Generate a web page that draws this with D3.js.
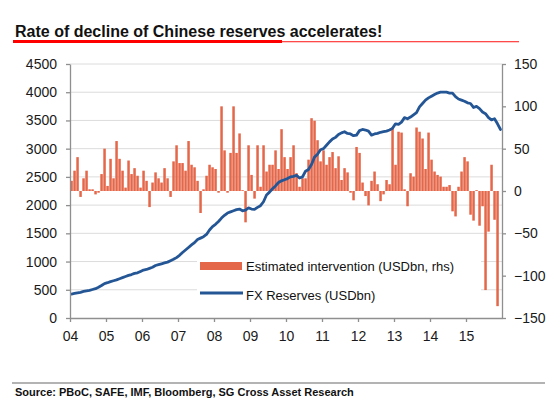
<!DOCTYPE html>
<html>
<head>
<meta charset="utf-8">
<script src="https://cdn.jsdelivr.net/npm/d3@7"></script>
<style>
  html, body { margin: 0; padding: 0; background: #fff; }
  svg { display: block; font-family: "Liberation Sans", Arial, sans-serif; }
</style>
</head>
<body>
<svg id="chart" width="550" height="411"></svg>
<script>
// ---- DATA ----
const titleText = "Rate of decline of Chinese reserves accelerates!";
const sourceText = "Source: PBoC, SAFE, IMF, Bloomberg, SG Cross Asset Research";
const yearLabels = ["04","05","06","07","08","09","10","11","12","13","14","15"];
const leftTicks = [0, 500, 1000, 1500, 2000, 2500, 3000, 3500, 4000, 4500];
const rightTicks = [-150, -100, -50, 0, 50, 100, 150];
const startYear = 2004;
const seriesNames = ["Estimated intervention (USDbn, rhs)", "FX Reserves (USDbn)"];

// Estimated intervention, monthly from Jan 2004 (USDbn, rhs)
const intervention = [
  12, 24, 40, -7, 15, 24, 2, 2, -4, -2, 20, 50,          // 2004
  6, 38, 15, 59, 38, 24, 4, 36, 20, 27, 18, 4,           // 2005
  24, 12, -19, 10, 22, 15, 10, 27, 15, -7, 35, 54,       // 2006
  33, 33, 24, 59, 31, 28, 12, -26, 2, 18, 31, 28,        // 2007
  26, -2, 100, 48, -2, 45, 100, 45, 68, 1, -37, 54,      // 2008
  19, -9, 54, 5, 54, 23, 31, 31, 48, 26, 73, 40,         // 2009
  26, 40, 54, 21, 5, 15, 15, 37, 86, 83, 60, 35,         // 2010
  48, 31, 40, 46, 27, 41, 13, 27, 22, -2, -11, 52,       // 2011
  45, 10, -6, -17, 12, 23, 8, -12, -4, 13, 8, 75,        // 2012
  31, 70, 69, 2, -18, 21, 17, 75, 70, 62, 26, 69,        // 2013
  37, 23, 19, 17, 5, 5, 7, -24, -30, 5, 23, 40,          // 2014
  35, -28, -35, 1, -41, -18, -117, -48, 31, -34, -136    // 2015
];

// FX reserves, monthly from Jan 2004 (USDbn)
const reserves = [
  425, 435, 445, 455, 470, 480, 490, 505, 520, 545, 575, 610,          // 2004
  625, 645, 660, 675, 695, 715, 735, 755, 770, 790, 800, 825,          // 2005
  850, 860, 880, 900, 930, 945, 960, 975, 990, 1015, 1040, 1070,       // 2006
  1110, 1160, 1205, 1250, 1295, 1335, 1390, 1415, 1440, 1480, 1560, 1620, // 2007
  1660, 1710, 1770, 1820, 1860, 1880, 1900, 1920, 1930, 1900, 1910, 1950, // 2008
  1930, 1925, 1960, 1990, 2060, 2180, 2230, 2290, 2340, 2400, 2430, 2450, // 2009
  2470, 2500, 2510, 2530, 2480, 2500, 2600, 2630, 2720, 2850, 2900, 2980, // 2010
  3000, 3060, 3120, 3170, 3200, 3250, 3280, 3300, 3270, 3260, 3230, 3240, // 2011
  3320, 3340, 3330, 3310, 3240, 3260, 3270, 3290, 3300, 3310, 3330, 3360, // 2012
  3440, 3430, 3470, 3550, 3530, 3560, 3600, 3640, 3740, 3800, 3860, 3900, // 2013
  3930, 3960, 3985, 4000, 4000, 4000, 3985, 3985, 3920, 3880, 3860, 3840, // 2014
  3813, 3800, 3730, 3750, 3710, 3650, 3620, 3550, 3510, 3530, 3440, 3340  // 2015
];

// ---- COLOURS / LAYOUT ----
const barColor = "#E5674A";
const lineColor = "#245696";
const axisColor = "#8f8f8f";
const gridColor = "#dcdcdc";

const svg = d3.select("#chart");
const plot = { left: 70, right: 502, top: 64, bottom: 318 };

const x = d3.scaleLinear().domain([startYear, startYear + yearLabels.length]).range([plot.left, plot.right]);
const yL = d3.scaleLinear().domain([0, 4500]).range([plot.bottom, plot.top]);
const yR = d3.scaleLinear().domain([-150, 150]).range([plot.bottom, plot.top]);
const monthDate = i => startYear + i / 12;

// Title
svg.append("text")
  .attr("x", 15).attr("y", 37)
  .attr("font-size", 16).attr("font-weight", "bold").attr("fill", "#111")
  .text(titleText);
// Red underline: thick under first part, thin rest
svg.append("rect").attr("x", 13).attr("y", 40).attr("width", 269).attr("height", 3).attr("fill", "#ff0000");
svg.append("rect").attr("x", 282).attr("y", 41).attr("width", 237).attr("height", 1.3).attr("fill", "#ff4a4a");

// Gridlines
svg.append("g").selectAll("line").data(leftTicks.filter(d => d > 0)).join("line")
  .attr("x1", plot.left).attr("x2", plot.right)
  .attr("y1", d => yL(d)).attr("y2", d => yL(d))
  .attr("stroke", gridColor).attr("stroke-width", 1);

// Bars
svg.append("g").selectAll("rect").data(intervention).join("rect")
  .attr("x", (d, i) => x(monthDate(i)) + 0.3)
  .attr("width", (d, i) => x(monthDate(i + 1)) - x(monthDate(i)) - 0.5)
  .attr("y", d => yR(Math.max(0, d)))
  .attr("height", d => Math.abs(yR(d) - yR(0)))
  .attr("fill", barColor);

// Line
const line = d3.line()
  .x((d, i) => x(monthDate(i + 0.5)))
  .y(d => yL(d))
  .curve(d3.curveLinear);
svg.append("path").datum(reserves)
  .attr("d", line).attr("fill", "none")
  .attr("stroke", lineColor).attr("stroke-width", 2.8)
  .attr("stroke-linejoin", "round").attr("stroke-linecap", "round");

// Axes
function styleAxis(g) {
  g.selectAll("path.domain").attr("stroke", axisColor).attr("stroke-width", 1.3);
  g.selectAll(".tick line").attr("stroke", axisColor).attr("stroke-width", 1.3);
  g.selectAll("text").attr("fill", "#1a1a1a").attr("font-size", 14)
    .attr("font-family", '"Liberation Sans", Arial, sans-serif');
}
svg.append("g").attr("transform", `translate(${plot.left},0)`)
  .call(d3.axisLeft(yL).tickValues(leftTicks).tickSize(4).tickSizeOuter(0).tickPadding(9).tickFormat(d3.format("d")))
  .call(styleAxis);
svg.append("g").attr("transform", `translate(${plot.right},0)`)
  .call(d3.axisRight(yR).tickValues(rightTicks).tickSize(4).tickSizeOuter(0).tickPadding(8).tickFormat(d3.format("d")))
  .call(styleAxis);
svg.append("g").attr("transform", `translate(0,${plot.bottom})`)
  .call(d3.axisBottom(x).tickValues(yearLabels.map((d, i) => startYear + i))
    .tickFormat((d, i) => yearLabels[i]).tickSize(4).tickSizeOuter(0).tickPadding(9))
  .call(styleAxis);

// Legend
const lg = svg.append("g");
lg.append("rect").attr("x", 197).attr("y", 254).attr("width", 284).attr("height", 52).attr("fill", "#fff");
lg.append("rect").attr("x", 200).attr("y", 262).attr("width", 42).attr("height", 8).attr("fill", barColor);
lg.append("line").attr("x1", 200).attr("x2", 243).attr("y1", 293).attr("y2", 293)
  .attr("stroke", lineColor).attr("stroke-width", 2.8);
lg.append("text").attr("x", 246).attr("y", 271).attr("font-size", 13).attr("fill", "#111").text(seriesNames[0]);
lg.append("text").attr("x", 246).attr("y", 299.5).attr("font-size", 13).attr("fill", "#111").text(seriesNames[1]);

// Source
svg.append("line").attr("x1", 12).attr("x2", 545).attr("y1", 383).attr("y2", 383)
  .attr("stroke", "#9a9a9a").attr("stroke-width", 1.5);
svg.append("text").attr("x", 15).attr("y", 396).attr("font-size", 11).attr("font-weight", "bold")
  .attr("fill", "#111").text(sourceText);
</script>
</body>
</html>
